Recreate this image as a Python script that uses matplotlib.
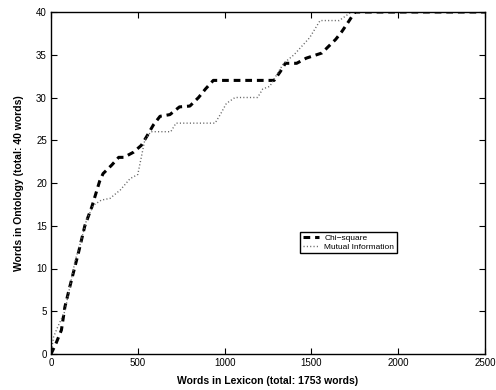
import numpy as np
import matplotlib.pyplot as plt

plt.rcParams['font.family'] = ['Liberation Sans', 'DejaVu Sans']

# === Data ===
chi_x = [0, 30, 60, 80, 110, 130, 160, 195, 235, 280, 300, 350, 390, 420, 475,
         520, 550, 590, 628, 685, 740, 800, 850, 890, 935, 1285, 1320, 1350,
         1415, 1470, 1530, 1560, 1590, 1640, 1675, 1715, 1750, 2500]
chi_y = [0, 1.3, 2.8, 5.5, 8, 9.6, 12, 15, 17.2, 20.2, 21.1, 22.1, 23, 23, 23.6,
         24.4, 25.4, 26.8, 27.8, 28, 28.9, 29, 30, 31, 32, 32, 33, 34,
         34, 34.6, 35, 35.2, 35.8, 36.8, 37.7, 38.9, 40, 40]

mi_x = [0, 15, 35, 80, 120, 140, 170, 205, 245, 290, 340, 400, 455, 500, 520,
        540, 575, 690, 720, 945, 975, 1010, 1060, 1190, 1220, 1260, 1340, 1400,
        1445, 1490, 1520, 1550, 1660, 1730, 2500]
mi_y = [0, 2, 3, 5, 9, 11, 13, 15.7, 17.4, 18, 18.2, 19.2, 20.5, 21, 23,
        25, 26, 26, 27, 27, 28, 29.3, 30, 30, 31, 31.3, 34, 35,
        36, 37, 38, 39, 39, 40, 40]

x_ticks = [0, 500, 1000, 1500, 2000, 2500]
y_ticks = [0, 5, 10, 15, 20, 25, 30, 35, 40]

# === Plotting ===
fig = plt.figure(figsize=(4.96, 3.90), dpi=100)
ax = fig.add_axes([51 / 496, 36 / 390, 434 / 496, 342 / 390])

ax.plot(chi_x, chi_y, color='black', linewidth=2.2, linestyle=(0, (2.2, 1.6)),
        label='Chi\u2212square')
ax.plot(mi_x, mi_y, color='0.4', linewidth=1.0, linestyle=(0, (0.8, 1.6)),
        label='Mutual Information')

ax.set_xlim(0, 2500)
ax.set_ylim(0, 40)
ax.set_xticks(x_ticks)
ax.set_yticks(y_ticks)
ax.tick_params(direction='in', length=4, width=0.8, labelsize=7,
               top=True, right=True, pad=3)
for s in ax.spines.values():
    s.set_linewidth(1.0)

ax.set_xlabel('Words in Lexicon (total: 1753 words)', fontsize=7.5,
              fontweight='bold', labelpad=6)
ax.set_ylabel('Words in Ontology (total: 40 words)', fontsize=7.5,
              fontweight='bold', labelpad=9)

leg = ax.legend(loc='lower left', bbox_to_anchor=(0.574, 0.295), fontsize=6,
                frameon=True, fancybox=False, framealpha=1, borderpad=0.3,
                handlelength=2.0, handletextpad=0.6, labelspacing=0.1,
                borderaxespad=0)
leg.get_frame().set_edgecolor('black')
leg.get_frame().set_linewidth(1.0)

fig.savefig('out.png', dpi=100)
